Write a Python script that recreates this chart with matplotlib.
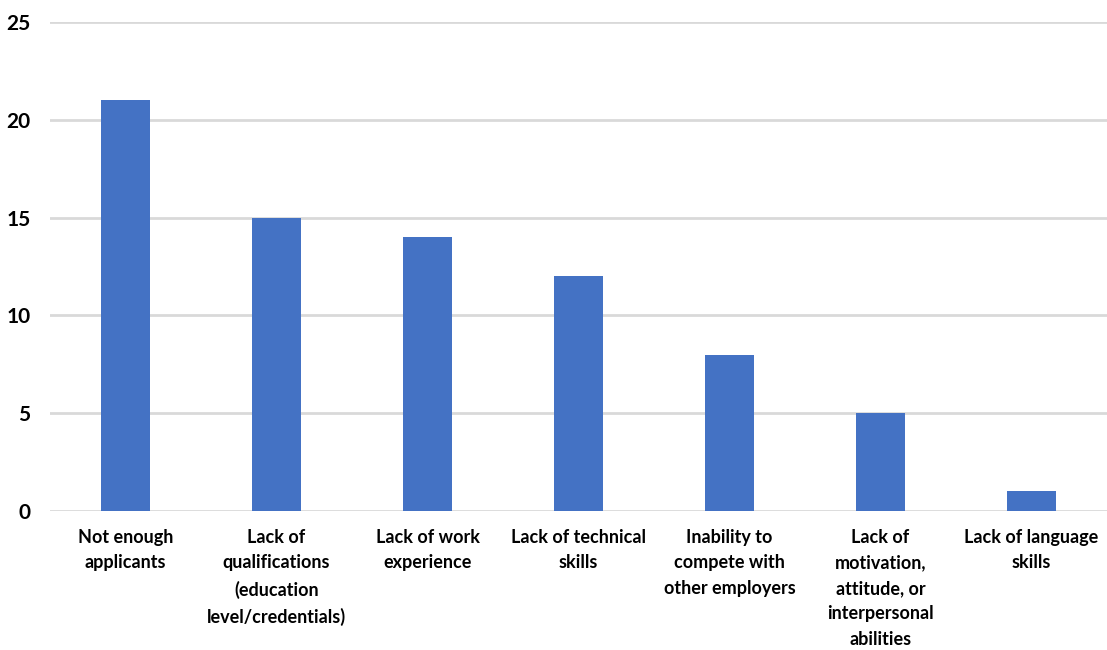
import matplotlib
matplotlib.use("Agg")
import matplotlib.pyplot as plt

# Reasons employers gave for hiring difficulties
categories = [
    "Not enough\napplicants",
    "Lack of\nqualifications\n(education\nlevel/credentials)",
    "Lack of work\nexperience",
    "Lack of technical\nskills",
    "Inability to\ncompete with\nother employers",
    "Lack of\nmotivation,\nattitude, or\ninterpersonal\nabilities",
    "Lack of language\nskills",
]
counts = [21, 15, 14, 12, 8, 5, 1]
yticks = [0, 5, 10, 15, 20, 25]

plt.rcParams["font.family"] = ["Lato", "DejaVu Sans"]

fig = plt.figure(figsize=(11.07, 6.5), dpi=100)
ax = fig.add_axes([0.0452, 0.2138, 0.9548, 0.7522])

x = range(len(categories))
ax.bar(x, counts, width=0.32, color="#4472C4", zorder=3)

ax.set_xlim(-0.5, len(categories) - 0.5)
ax.set_ylim(0, 25)
ax.set_yticks(yticks)
ax.set_yticklabels([str(t) for t in yticks], fontsize=15, fontweight="bold")
ax.set_xticks(list(x))
ax.set_xticklabels(categories, fontsize=13, fontweight="bold", linespacing=1.6,
                   va="top")

ax.grid(axis="y", color="#d9d9d9", linewidth=2, zorder=0)
ax.tick_params(axis="both", length=0)
ax.tick_params(axis="x", pad=13)
ax.tick_params(axis="y", pad=14)
for side in ["top", "right", "left", "bottom"]:
    ax.spines[side].set_visible(False)

fig.savefig("out.png", dpi=100)
